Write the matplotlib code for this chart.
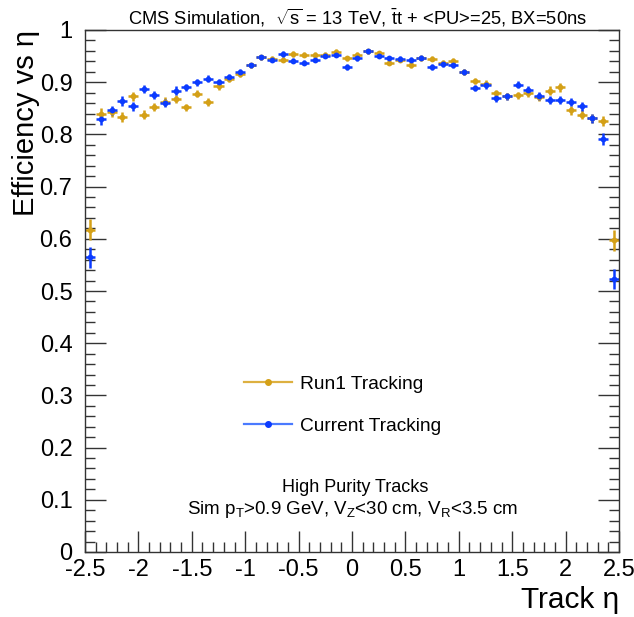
import matplotlib
matplotlib.use("Agg")
import matplotlib.pyplot as plt
from matplotlib.lines import Line2D
from matplotlib.ticker import MultipleLocator

plt.rcParams['font.family'] = ['Liberation Sans', 'DejaVu Sans']
plt.rcParams['mathtext.fontset'] = 'custom'
plt.rcParams['mathtext.rm'] = 'Liberation Sans'
plt.rcParams['mathtext.it'] = 'Liberation Sans:italic'

# bin centres in track eta
eta = [-2.45, -2.35, -2.25, -2.15, -2.05, -1.95, -1.85, -1.75, -1.65, -1.55, -1.45,
       -1.35, -1.25, -1.15, -1.05, -0.95, -0.85, -0.75, -0.65, -0.55, -0.45,
       -0.35, -0.25, -0.15, -0.05, 0.05, 0.15, 0.25, 0.35, 0.45, 0.55,
       0.65, 0.75, 0.85, 0.95, 1.05, 1.15, 1.25, 1.35, 1.45, 1.55,
       1.65, 1.75, 1.85, 1.95, 2.05, 2.15, 2.25, 2.35, 2.45]

run1_eff = [0.617, 0.840, 0.842, 0.833, 0.873, 0.838, 0.852, 0.863, 0.868, 0.852, 0.878,
            0.862, 0.892, 0.907, 0.916, 0.932, 0.948, 0.945, 0.943, 0.954, 0.953,
            0.953, 0.952, 0.958, 0.946, 0.953, 0.959, 0.955, 0.937, 0.943, 0.933,
            0.946, 0.945, 0.937, 0.941, 0.920, 0.903, 0.897, 0.879, 0.873, 0.875,
            0.879, 0.872, 0.884, 0.890, 0.846, 0.838, 0.831, 0.826, 0.597]
run1_err = [0.020, 0.010, 0.009, 0.009, 0.009, 0.008, 0.008, 0.008, 0.008, 0.007, 0.007,
            0.007, 0.007, 0.006, 0.006, 0.005, 0.005, 0.005, 0.005, 0.005, 0.005,
            0.005, 0.005, 0.005, 0.005, 0.005, 0.005, 0.005, 0.005, 0.005, 0.005,
            0.005, 0.005, 0.005, 0.005, 0.006, 0.006, 0.007, 0.007, 0.007, 0.007,
            0.007, 0.008, 0.008, 0.008, 0.008, 0.009, 0.009, 0.010, 0.020]

cur_eff = [0.565, 0.829, 0.846, 0.864, 0.854, 0.887, 0.876, 0.860, 0.884, 0.890, 0.900,
           0.907, 0.900, 0.910, 0.919, 0.932, 0.948, 0.943, 0.954, 0.941, 0.937,
           0.943, 0.951, 0.953, 0.929, 0.946, 0.959, 0.951, 0.946, 0.945, 0.943,
           0.947, 0.929, 0.935, 0.932, 0.919, 0.889, 0.894, 0.870, 0.873, 0.895,
           0.886, 0.873, 0.866, 0.866, 0.862, 0.854, 0.831, 0.791, 0.523]
cur_err = [0.020, 0.011, 0.009, 0.009, 0.009, 0.008, 0.008, 0.008, 0.008, 0.007, 0.007,
           0.007, 0.007, 0.006, 0.006, 0.005, 0.005, 0.005, 0.005, 0.005, 0.005,
           0.005, 0.005, 0.005, 0.005, 0.005, 0.005, 0.005, 0.005, 0.005, 0.005,
           0.005, 0.005, 0.005, 0.005, 0.006, 0.006, 0.007, 0.007, 0.007, 0.007,
           0.007, 0.008, 0.008, 0.008, 0.008, 0.009, 0.009, 0.011, 0.020]

xtick_vals = [-2.5, -2.0, -1.5, -1.0, -0.5, 0.0, 0.5, 1.0, 1.5, 2.0, 2.5]
xtick_labels = ['-2.5', '-2', '-1.5', '-1', '-0.5', '0', '0.5', '1', '1.5', '2', '2.5']
ytick_vals = [0.0, 0.1, 0.2, 0.3, 0.4, 0.5, 0.6, 0.7, 0.8, 0.9, 1.0]
ytick_labels = ['0', '0.1', '0.2', '0.3', '0.4', '0.5', '0.6', '0.7', '0.8', '0.9', '1']

bin_half = 0.047

c_run1 = '#D4A017'
c_run1_line = '#DDB040'
c_cur = '#0B3BFF'
c_cur_line = '#4A7AFF'

fig = plt.figure(figsize=(6.34, 6.17), dpi=100)
ax = fig.add_axes([85/634, 1-552/617, (619-85)/634, (552-30)/617])

ax.errorbar(eta, run1_eff, xerr=bin_half, yerr=run1_err, fmt='o', ms=4.2,
            color=c_run1, ecolor=c_run1, elinewidth=1.8, capsize=0, mew=0)
ax.errorbar(eta, cur_eff, xerr=bin_half, yerr=cur_err, fmt='o', ms=4.2,
            color=c_cur, ecolor=c_cur, elinewidth=1.8, capsize=0, mew=0)

ax.set_xlim(-2.5, 2.5)
ax.set_ylim(0, 1)
ax.set_xticks(xtick_vals, labels=xtick_labels)
ax.set_yticks(ytick_vals, labels=ytick_labels)
ax.xaxis.set_minor_locator(MultipleLocator(0.1))
ax.yaxis.set_minor_locator(MultipleLocator(0.02))
ax.tick_params(which='both', direction='in', top=False, right=True,
               labelsize=17, color='#333333', width=1.0)
ax.tick_params(which='major', length=15)
ax.tick_params(which='minor', length=7)
ax.tick_params(axis='x', pad=5)
ax.tick_params(axis='y', pad=9)
for s in ax.spines.values():
    s.set_linewidth(1.0)
    s.set_color('#333333')

fig.text(358/634, 1-18/617, r'CMS Simulation,  $\sqrt{\mathrm{s}}$ = 13 TeV, $\bar{\mathrm{t}}$t + <PU>=25, BX=50ns',
         ha='center', va='center', fontsize=13.2)
fig.text(26/634, 1-30/617, 'Efficiency vs η', rotation=90, ha='center', va='top', fontsize=21)
fig.text(619/634, 1-600/617, 'Track η', ha='right', va='center', fontsize=21.5)

handles = [Line2D([0], [0], color=c_run1_line, lw=1.6, marker='o', ms=4,
                  markerfacecolor=c_run1, markeredgecolor=c_run1),
           Line2D([0], [0], color=c_cur_line, lw=1.6, marker='o', ms=4,
                  markerfacecolor=c_cur, markeredgecolor=c_cur)]
ax.legend(handles, ['Run1 Tracking', 'Current Tracking'], frameon=False,
          loc='upper left', bbox_to_anchor=(231/634, 1-362/617),
          bbox_transform=fig.transFigure, fontsize=13.8, handlelength=2.5,
          handletextpad=0.42, labelspacing=1.3, borderpad=0.2)

ax.text(355/634, 1-488/617, 'High Purity Tracks', transform=fig.transFigure,
        ha='center', va='center', fontsize=13)
ax.text(353/634, 1-510/617, r'Sim p$_\mathrm{T}$>0.9 GeV, V$_\mathrm{Z}$<30 cm, V$_\mathrm{R}$<3.5 cm',
        transform=fig.transFigure, ha='center', va='center', fontsize=13.5)

fig.savefig('out.png', dpi=100)
